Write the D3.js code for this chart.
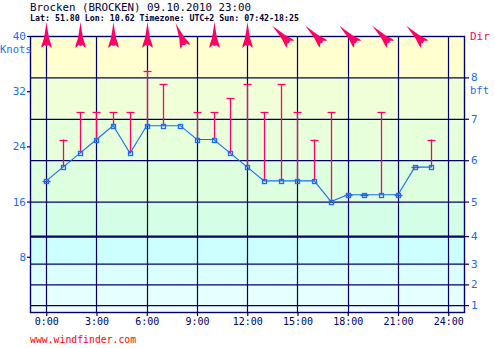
<!DOCTYPE html>
<html>
<head>
<meta charset="utf-8">
<script src="https://cdn.jsdelivr.net/npm/d3@7"></script>
<style>
  body { margin: 0; background: #fff; }
  text { font-family: "DejaVu Sans Mono", monospace; }
</style>
</head>
<body>
<div id="chart"></div>
<script>
// hourly forecast values
const hours = d3.range(0, 24);
const speed = [19, 21, 23, 25, 27, 23, 27, 27, 27, 25, 25, 23, 21, 19, 19, 19, 19, 16, 17, 17, 17, 17, 21, 21];
const gust  = [19, 25, 29, 29, 29, 29, 35, 33, null, 29, 29, 31, 33, 29, 33, 29, 25, 29, 17, 17, 29, 17, 21, 25];

// direction arrows every 2 hours (degrees wind comes from)
const dirHours = [0, 2, 4, 6, 8, 10, 12, 14, 16, 18, 20, 22];
const dirDeg   = [180, 180, 180, 180, 157.5, 180, 180, 135, 135, 135, 135, 135];

// axis ticks
const knotTicks = [8, 16, 24, 32, 40];
const timeTicks = [0, 3, 6, 9, 12, 15, 18, 21, 24];
const bftLimits = [1, 4, 7, 11, 16, 22, 28, 34];
const bftLabels = ["1", "2", "3", "4", "5", "6", "7", "8"];
const bandColors = ["#f2ffff", "#e6ffff", "#dcffff", "#ccffff", "#d4ffe6", "#defee0", "#e8ffdc", "#f1ffd8", "#ffffcf"];

const W = 495, H = 348;
const svg = d3.select("#chart").append("svg")
  .attr("width", W)
  .attr("height", H);

const x = d3.scaleLinear().domain([-0.97, 25]).range([30, 465]);
const y = d3.scaleLinear().domain([0, 40]).range([312, 36]);

// background bands by beaufort
const edges = [0].concat(bftLimits).concat([40]);
svg.append("g").selectAll("rect")
  .data(d3.pairs(edges))
  .enter().append("rect")
  .attr("x", x.range()[0])
  .attr("width", x.range()[1] - x.range()[0])
  .attr("y", d => y(d[1]))
  .attr("height", d => y(d[0]) - y(d[1]))
  .attr("fill", (d, i) => bandColors[i]);

const navy = "#000066";

// grid
svg.append("g").selectAll("line")
  .data(bftLimits)
  .enter().append("line")
  .attr("x1", 30).attr("x2", 465)
  .attr("y1", d => y(d) + 0.5).attr("y2", d => y(d) + 0.5)
  .attr("stroke", navy)
  .attr("stroke-width", d => d == 11 ? 2.2 : 1.2);

svg.append("g").selectAll("line")
  .data(timeTicks)
  .enter().append("line")
  .attr("x1", d => Math.round(x(d)) + 0.5).attr("x2", d => Math.round(x(d)) + 0.5)
  .attr("y1", 36).attr("y2", 312)
  .attr("stroke", navy)
  .attr("stroke-width", 1.2);

svg.append("rect")
  .attr("x", 30.5).attr("y", 36.5)
  .attr("width", 434).attr("height", 276)
  .attr("fill", "none")
  .attr("stroke", navy)
  .attr("stroke-width", 1.4);

// axes
const xAxis = svg.append("g")
  .attr("transform", "translate(0,312)")
  .call(d3.axisBottom(x).tickValues(timeTicks).tickFormat(d => d + ":00").tickSize(4).tickPadding(2));
const yAxis = svg.append("g")
  .attr("transform", "translate(30,0)")
  .call(d3.axisLeft(y).tickValues(knotTicks).tickSize(3).tickPadding(1));
const bAxis = svg.append("g")
  .attr("transform", "translate(465,0)")
  .call(d3.axisRight(y).tickValues(bftLimits).tickFormat((d, i) => bftLabels[i]).tickSize(4).tickPadding(2));

[xAxis, yAxis, bAxis].forEach(a => {
  a.select(".domain").remove();
  a.selectAll("line").attr("stroke", navy).attr("stroke-width", 1.2);
});
xAxis.selectAll("text").attr("fill", navy).style("font-size", "10px");
yAxis.selectAll("text").attr("fill", "#1a6cf0").style("font-size", "11px");
bAxis.selectAll("text").attr("fill", "#1a6cf0").style("font-size", "11px");

svg.append("text").attr("x", 0).attr("y", 53)
  .attr("fill", "#1a6cf0").style("font-size", "10.5px").text("Knots");
svg.append("text").attr("x", 470).attr("y", 94)
  .attr("fill", "#1a6cf0").style("font-size", "10.5px").text("bft");
svg.append("text").attr("x", 470).attr("y", 40)
  .attr("fill", "#ff0066").style("font-size", "11px").text("Dir");

// titles
svg.append("text").attr("x", 30).attr("y", 10.5)
  .attr("fill", "#000033").style("font-size", "10.5px")
  .attr("textLength", 221).attr("lengthAdjust", "spacingAndGlyphs")
  .text("Brocken (BROCKEN) 09.10.2010 23:00");
svg.append("text").attr("x", 30).attr("y", 20.5)
  .attr("fill", "#000033").style("font-size", "8px").style("font-weight", "bold")
  .attr("textLength", 269).attr("lengthAdjust", "spacingAndGlyphs")
  .text("Lat: 51.80 Lon: 10.62 Timezone: UTC+2 Sun: 07:42-18:25");
svg.append("text").attr("x", 30).attr("y", 343)
  .attr("fill", "#ff0000").style("font-size", "9.8px")
  .text("www.windfinder.com");

// gust bars
const red = "#ff0066";
const g = hours.map((h, i) => ({ h: h, s: speed[i], gu: gust[i] })).filter(d => d.gu != null);
const gustG = svg.append("g");
gustG.selectAll("line.bar")
  .data(g).enter().append("line")
  .attr("class", "bar")
  .attr("x1", d => Math.round(x(d.h)) + 0.5).attr("x2", d => Math.round(x(d.h)) + 0.5)
  .attr("y1", d => y(d.s)).attr("y2", d => y(d.gu))
  .attr("stroke", red).attr("stroke-width", 1.3);
gustG.selectAll("line.cap")
  .data(g).enter().append("line")
  .attr("class", "cap")
  .attr("x1", d => Math.round(x(d.h)) - 3.5).attr("x2", d => Math.round(x(d.h)) + 4.5)
  .attr("y1", d => Math.round(y(d.gu)) + 0.5).attr("y2", d => Math.round(y(d.gu)) + 0.5)
  .attr("stroke", red).attr("stroke-width", 1.3);

// speed line
const blue = "#1a6cf0";
const line = d3.line().x((d, i) => x(hours[i])).y(d => y(d));
svg.append("path")
  .attr("d", line(speed))
  .attr("fill", "none")
  .attr("stroke", blue)
  .attr("stroke-width", 1.1);

const pts = svg.append("g").selectAll("g")
  .data(speed).enter().append("g")
  .attr("transform", (d, i) => `translate(${Math.round(x(hours[i])) + 0.5},${Math.round(y(d)) + 0.5})`);
pts.append("rect")
  .attr("x", -2).attr("y", -2).attr("width", 4).attr("height", 4)
  .attr("fill", "none").attr("stroke", blue).attr("stroke-width", 1.3);

// direction arrows
const arrowShape = [[0, -13], [1.2, -5], [2.5, 3], [5, 10.5], [5, 13], [2, 10], [0, 11], [-2, 10], [-5, 13], [-5, 10.5], [-2.5, 3], [-1.2, -5]];
svg.append("g").selectAll("path")
  .data(dirHours).enter().append("path")
  .attr("d", "M" + arrowShape.join("L") + "Z")
  .attr("transform", (d, i) => `translate(${Math.round(x(d)) + 0.5},35) rotate(${dirDeg[i] - 180})`)
  .attr("fill", red);
</script>
</body>
</html>
